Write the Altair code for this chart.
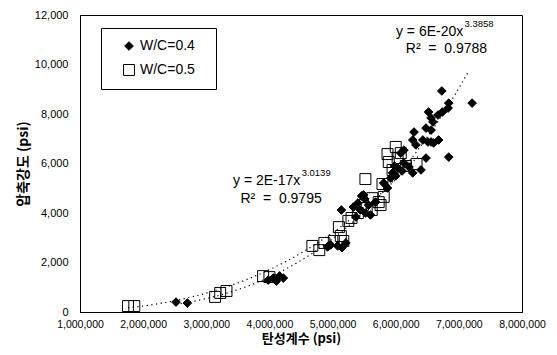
import altair as alt
import pandas as pd

# ---- data ----
series_names = ["W/C=0.4", "W/C=0.5"]

wc04_x = [2.52e6, 2.70e6,
          3.98e6, 4.06e6, 4.11e6, 4.16e6, 4.22e6,
          4.92e6, 4.97e6, 5.08e6, 5.21e6, 5.15e6,
          5.14e6, 5.33e6, 5.37e6, 5.40e6, 5.44e6, 5.46e6, 5.51e6, 5.49e6, 5.57e6, 5.60e6, 5.68e6, 5.52e6,
          5.81e6, 5.87e6, 5.92e6, 5.95e6, 6.03e6, 6.08e6, 6.13e6, 6.21e6, 6.27e6, 6.40e6, 6.00e6, 6.10e6, 5.98e6,
          6.13e6, 6.48e6, 6.84e6,
          6.27e6, 6.29e6, 6.32e6, 6.43e6, 6.51e6, 6.60e6, 6.68e6, 6.56e6,
          6.48e6, 6.56e6, 6.59e6, 6.56e6, 6.52e6, 6.67e6, 6.74e6, 6.83e6, 6.84e6, 6.73e6, 7.21e6]
wc04_y = [400, 360,
          1290, 1370, 1250, 1450, 1370,
          2630, 2710, 2670, 2790, 2600,
          4120, 4240, 3840, 4400, 4120, 4690, 4570, 4730, 4320, 3920, 4440, 4000,
          5210, 5010, 5410, 5620, 5820, 6420, 6020, 5860, 5620, 5740, 5500, 5700, 5900,
          6540, 6220, 6260,
          6950, 7270, 6750, 6950, 6870, 6830, 6950, 6870,
          7430, 7350, 7680, 7840, 8080, 7960, 8080, 8240, 8440, 8930, 8440]

wc05_x = [1.76e6, 1.86e6, 3.14e6, 3.22e6, 3.32e6, 3.90e6, 4.00e6,
          4.68e6, 4.79e6, 4.87e6, 5.02e6, 5.13e6, 5.17e6, 5.10e6, 5.25e6, 5.30e6,
          5.40e6, 5.48e6, 5.54e6, 5.62e6, 5.63e6, 5.73e6, 5.76e6, 5.81e6, 5.79e6, 5.52e6,
          5.87e6, 5.89e6, 5.95e6, 6.00e6, 6.03e6, 6.08e6, 6.16e6, 6.33e6]
wc05_y = [240, 240, 610, 770, 850, 1450, 1410,
          2670, 2500, 2790, 2870, 3070, 2870, 3430, 3680, 3800,
          4000, 4320, 4200, 4120, 4600, 4440, 4320, 4650, 5170, 5370,
          6380, 6060, 5740, 6670, 6220, 6420, 5900, 5980]

trend_extent_04 = [2.52e6, 7.15e6]
trend_extent_05 = [1.76e6, 6.35e6]

# annotation texts (anchored in data space)
eq_main_text = ["y = 6E-20x", "y = 2E-17x"]
eq_main_x = [7.07e6, 4.49e6]
eq_main_y = [11300, 5300]
eq_sup_text = ["3.3858", "3.0139"]
eq_sup_x = [7.09e6, 4.51e6]
eq_sup_y = [11640, 5620]
eq_r2_text = ["R\u00b2 \u00a0=\u00a0 0.9788", "R\u00b2 \u00a0=\u00a0 0.9795"]
eq_r2_x = [6.16e6, 3.54e6]
eq_r2_y = [10640, 4560]

x_ticks = [1e6, 2e6, 3e6, 4e6, 5e6, 6e6, 7e6, 8e6]
y_ticks = [0, 2000, 4000, 6000, 8000, 10000, 12000]

# ---- tables ----
df04 = pd.DataFrame({"x": wc04_x, "y": wc04_y, "series": series_names[0]})
df05 = pd.DataFrame({"x": wc05_x, "y": wc05_y, "series": series_names[1]})
df = pd.concat([df05, df04], ignore_index=True)
ann_main = pd.DataFrame({"x": eq_main_x, "y": eq_main_y, "t": eq_main_text})
ann_sup = pd.DataFrame({"x": eq_sup_x, "y": eq_sup_y, "t": eq_sup_text})
ann_r2 = pd.DataFrame({"x": eq_r2_x, "y": eq_r2_y, "t": eq_r2_text})

FONT = "Liberation Sans"
KFONT = "Noto Sans CJK KR"

x_scale = alt.Scale(domain=[1e6, 8e6], nice=False)
y_scale = alt.Scale(domain=[0, 12000], nice=False)

x_axis = alt.Axis(values=x_ticks, format=",d", title="탄성계수 (psi)", grid=False,
                  ticks=False, tickSize=0, labelPadding=7, labelFont=FONT, labelFontSize=10.5,
                  labelColor="black", titleFont=KFONT, titleFontSize=13, titleFontWeight="bold",
                  titleColor="black", titlePadding=3, domainColor="black", labelFlush=False)
y_axis = alt.Axis(values=y_ticks, format=",d", title="압축강도 (psi)", grid=False,
                  ticks=False, tickSize=0, labelPadding=12, labelFont=FONT, labelFontSize=11,
                  labelColor="black", titleFont=KFONT, titleFontSize=14, titleFontWeight="bold",
                  titleColor="black", titlePadding=4, domainColor="black", labelFlush=False)

leg = alt.Legend(title=None, orient="none", legendX=21, legendY=13, strokeColor="black",
                 fillColor="white", padding=11, rowPadding=9, labelFont=FONT, labelFontSize=14,
                 labelColor="black", symbolStrokeWidth=1, symbolStrokeColor="black",
                 labelOffset=4, symbolOffset=10,
                 labelExpr="datum.label + '\u2800'")

points = alt.Chart(df).mark_point(strokeWidth=1, opacity=1).encode(
    x=alt.X("x:Q", scale=x_scale, axis=x_axis),
    y=alt.Y("y:Q", scale=y_scale, axis=y_axis),
    shape=alt.Shape("series:N", scale=alt.Scale(domain=series_names, range=["diamond", "square"]), legend=leg),
    size=alt.Size("series:N", scale=alt.Scale(domain=series_names, range=[75, 120]), legend=leg),
    fill=alt.Fill("series:N", scale=alt.Scale(domain=series_names, range=["black", "transparent"]), legend=leg),
    stroke=alt.Stroke("series:N", scale=alt.Scale(domain=series_names, range=["black", "black"]), legend=leg),
)

def trend(d, ext):
    return alt.Chart(d).transform_regression("x", "y", method="pow", extent=ext).mark_line(
        color="black", strokeWidth=1.2, strokeDash=[1.2, 3.5]).encode(
        x=alt.X("x:Q", scale=x_scale), y=alt.Y("y:Q", scale=y_scale))

t_main = alt.Chart(ann_main).mark_text(font=FONT, fontSize=14, align="right", baseline="middle",
                                       color="black").encode(x=alt.X("x:Q", scale=x_scale), y=alt.Y("y:Q", scale=y_scale), text="t:N")
t_sup = alt.Chart(ann_sup).mark_text(font=FONT, fontSize=9.5, align="left", baseline="middle",
                                     color="black").encode(x=alt.X("x:Q", scale=x_scale), y=alt.Y("y:Q", scale=y_scale), text="t:N")
t_r2 = alt.Chart(ann_r2).mark_text(font=FONT, fontSize=14, align="left", baseline="middle",
                                   color="black").encode(x=alt.X("x:Q", scale=x_scale), y=alt.Y("y:Q", scale=y_scale), text="t:N")

chart = alt.layer(trend(df04, trend_extent_04), trend(df05, trend_extent_05), points, t_main, t_sup, t_r2).properties(
    width=442, height=297,
    padding={"left": 72, "top": 7, "right": 27, "bottom": 35},
    autosize=alt.AutoSizeParams(type="none"),
    background="white",
).configure_view(stroke="black", strokeWidth=1)

chart.save("out.html", embed_options={"renderer": "svg", "actions": False})
